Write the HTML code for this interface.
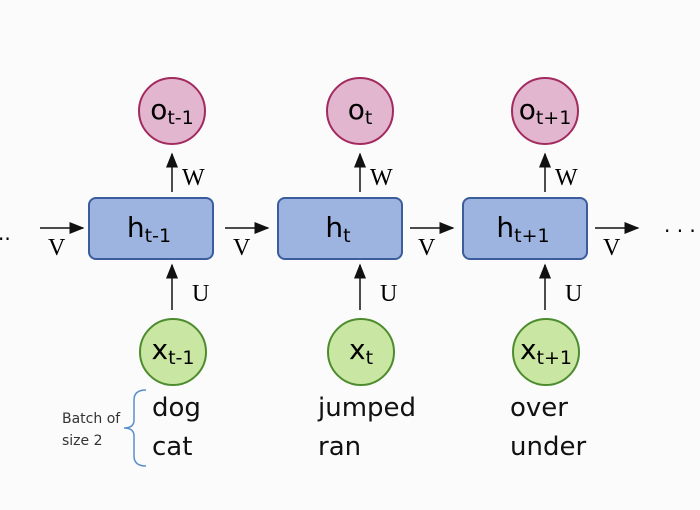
<!DOCTYPE html>
<html><head><meta charset="utf-8"><style>
body{margin:0;background:#fbfbfb}
svg{display:block}
text{font-family:"DejaVu Sans","Liberation Sans",sans-serif}
.serif{font-family:"Liberation Serif",serif;font-size:24px}
</style></head><body>
<svg width="700" height="510" viewBox="0 0 700 510">
<defs><marker id="ah" markerWidth="10" markerHeight="8" refX="9" refY="4" orient="auto"><path d="M0,0 L10,4 L0,8 z" fill="#111"/></marker></defs>
<rect width="700" height="510" fill="#fbfbfb"/>
<g id="cols"></g>
<text x="-2" y="246" font-size="20">··</text>
<text x="664" y="238" font-size="20">· · ·</text>
<g>
<path d="M146,390 Q134,390 134,400 L134,420 Q134,428 124,428 Q134,428 134,436 L134,456 Q134,466 146,466" fill="none" stroke="#5b8fc9" stroke-width="1.5"/>
</g>
<text x="62" y="423" font-size="14" fill="#333">Batch of</text>
<text x="62" y="445" font-size="14" fill="#333">size 2</text>
</svg>
<script>
const cx=[172,360,545];
const bx=[89,278,463];
const wx=[152,318,510];
const subs=['t-1','t','t+1'];
const w1=['dog','jumped','over'];
const w2=['cat','ran','under'];
const hx=[40,225,410,595];
const NS='http://www.w3.org/2000/svg';
const g=document.getElementById('cols');
function mk(t,a,txt){const e=document.createElementNS(NS,t);for(const k in a)e.setAttribute(k,a[k]);if(txt!==undefined)e.innerHTML=txt;g.appendChild(e);return e;}
for(let i=0;i<3;i++){
 let e;
 e=mk('circle',{cx:cx[i],cy:111,r:33,fill:'#e2b6cf',stroke:'#a32a5e','stroke-width':2});
 
 
 e=mk('text',{x:cx[i],y:119,'font-size':28,'text-anchor':'middle'},'o<tspan font-size="19" dy="5">'+subs[i]+'</tspan>');
 
 
 e=mk('line',{x1:cx[i],y1:192,x2:cx[i],y2:154,stroke:'#111','stroke-width':1.5,'marker-end':'url(#ah)'});
 
 
 e=mk('text',{x:cx[i]+10,y:185,'class':'serif'},'W');
 
 
 e=mk('rect',{x:bx[i],y:198,width:124,height:61,rx:7,fill:'#9db4e0',stroke:'#3b5d9c','stroke-width':2});
 
 
 e=mk('text',{x:bx[i]+60,y:237,'font-size':28,'text-anchor':'middle'},'h<tspan font-size="19" dy="5">'+subs[i]+'</tspan>');
 
 
 e=mk('line',{x1:cx[i],y1:310,x2:cx[i],y2:265,stroke:'#111','stroke-width':1.5,'marker-end':'url(#ah)'});
 
 
 e=mk('text',{x:cx[i]+20,y:301,'class':'serif'},'U');
 
 
 e=mk('circle',{cx:cx[i]+1,cy:352,r:33,fill:'#c9e6a2',stroke:'#4d8c2e','stroke-width':2});
 
 
 e=mk('text',{x:cx[i]+1,y:359,'font-size':28,'text-anchor':'middle'},'x<tspan font-size="19" dy="5">'+subs[i]+'</tspan>');
 
 
 e=mk('text',{x:wx[i],y:416,'font-size':26,fill:'#111'},w1[i]);
 
 
 e=mk('text',{x:wx[i],y:455,'font-size':26,fill:'#111'},w2[i]);
 
 
}
for(let j=0;j<4;j++){
 let e=mk('line',{x1:hx[j],y1:228,x2:hx[j]+43,y2:228,stroke:'#111','stroke-width':1.5,'marker-end':'url(#ah)'});
 
 
 e=mk('text',{x:hx[j]+8,y:255,'class':'serif'},'V');
 
 
}
</script>
</body></html>
